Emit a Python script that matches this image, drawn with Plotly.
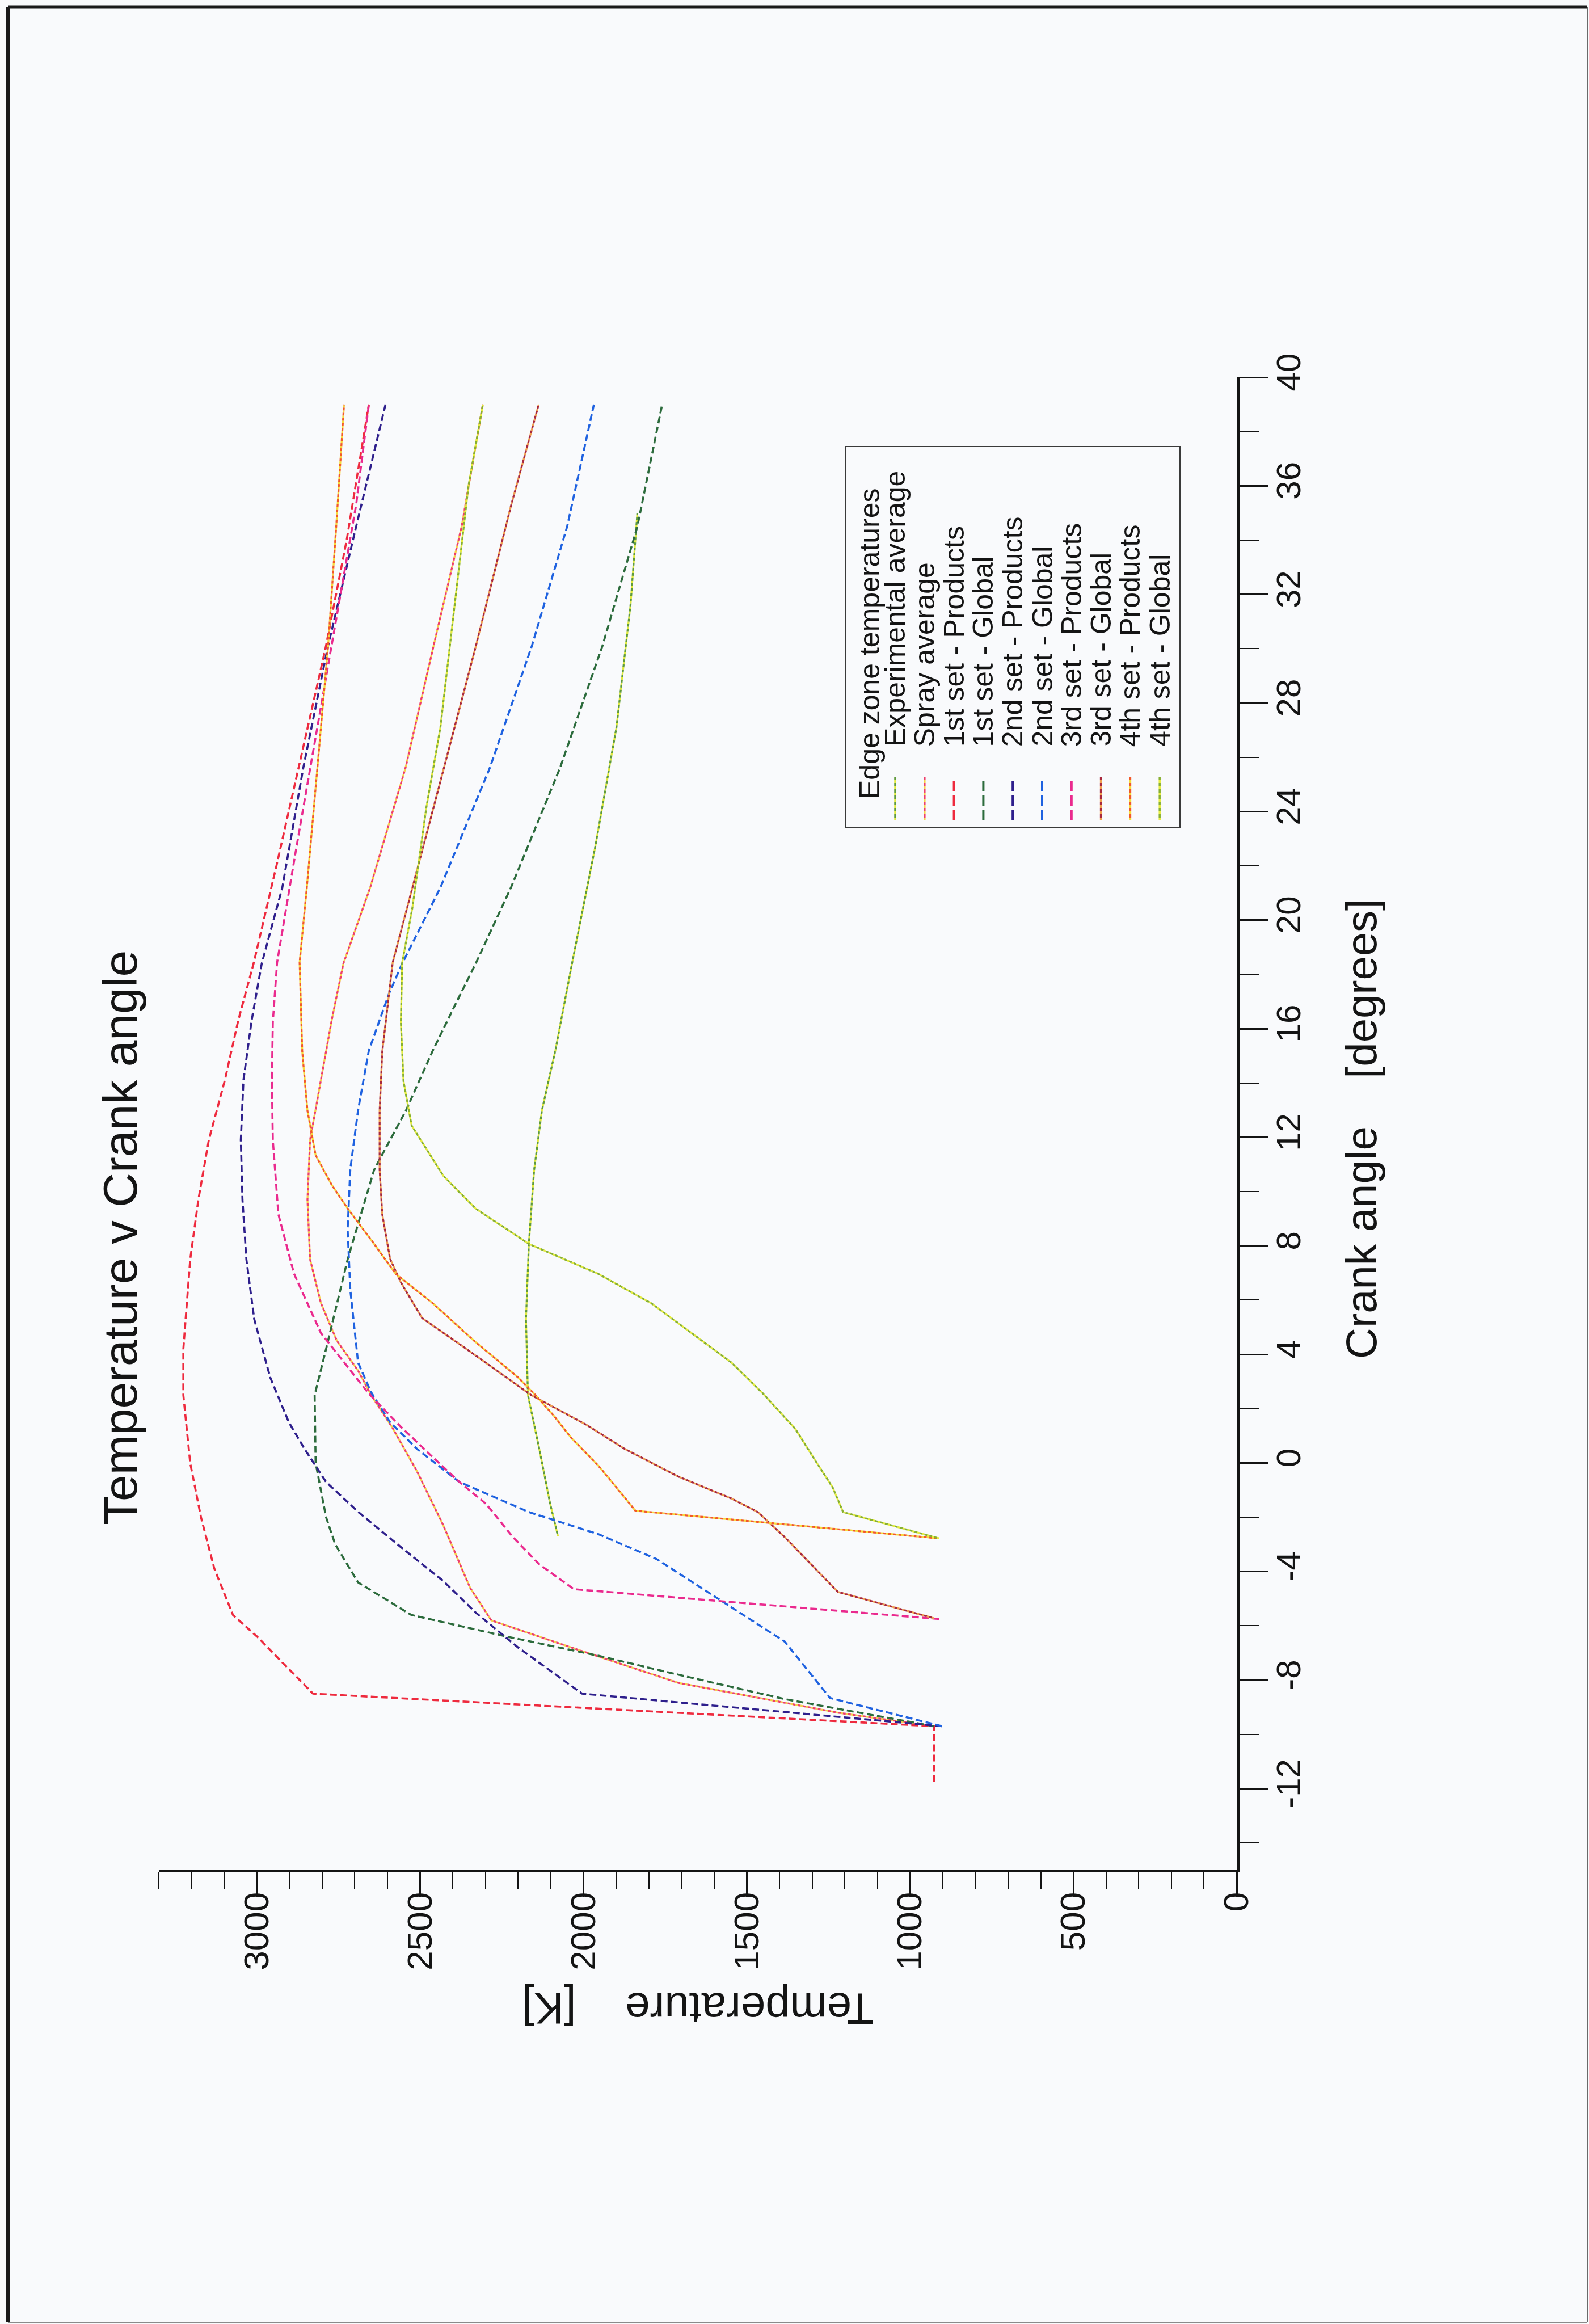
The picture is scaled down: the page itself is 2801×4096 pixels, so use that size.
import plotly.graph_objects as go

# ---------------- data: crank angle [degrees] vs temperature [K] ----------------
exp_avg_ca = [-2.7, -1.5, 0.5, 2.5, 5.3, 8.1, 10.8, 13.0, 15.2, 17.3, 18.4, 22.7, 27.1, 31.6, 35.0]
exp_avg_t = [2078, 2102, 2135, 2170, 2176, 2167, 2151, 2127, 2086, 2053, 2035, 1964, 1899, 1856, 1835]

spray_ca = [-9.7, -9.2, -8.1, -6.8, -5.8, -4.6, -2.3, -0.3, 1.3, 2.5, 3.4, 4.5, 5.9, 7.5, 9.7,
            11.9, 14.1, 16.3, 18.4, 21.2, 25.6, 30.1, 34.5, 39.0]
spray_t = [927, 1221, 1710, 2037, 2282, 2347, 2429, 2510, 2585, 2650, 2690, 2755, 2804, 2837, 2845,
           2837, 2804, 2771, 2735, 2653, 2545, 2459, 2373, 2308]

set1_prod_ca = [-11.75, -9.7, -8.5, -7.6, -6.4, -5.6, -3.9, -2.0, 0.0, 2.5, 4.2, 7.5, 9.7, 11.9,
                14.1, 16.3, 18.4, 22.0, 26.0, 30.0, 34.0, 39.0]
set1_prod_t = [927, 927, 2828, 2902, 2999, 3073, 3130, 3171, 3204, 3225, 3225, 3204, 3179, 3147,
               3098, 3057, 3010, 2940, 2865, 2790, 2725, 2657]

set1_glob_ca = [-9.7, -8.7, -7.8, -7.1, -6.4, -5.6, -4.4, -3.0, -2.0, 0.0, 2.5, 4.2, 7.5, 10.8,
                13.0, 15.2, 16.8, 18.4, 21.2, 25.6, 30.1, 34.5, 39.0]
set1_glob_t = [927, 1384, 1710, 1955, 2233, 2527, 2690, 2760, 2788, 2820, 2823, 2788, 2722, 2641,
               2543, 2461, 2396, 2330, 2222, 2072, 1942, 1835, 1759]

set2_prod_ca = [-9.7, -8.5, -6.8, -5.5, -4.35, -3.1, -1.8, -0.7, 0.5, 1.5, 3.15, 5.3, 7.5, 9.7,
                11.9, 14.1, 16.3, 18.4, 21.2, 25.6, 30.1, 34.5, 39.0]
set2_prod_t = [902, 2004, 2200, 2331, 2429, 2559, 2690, 2788, 2853, 2902, 2959, 3008, 3032, 3044,
               3049, 3041, 3016, 2985, 2922, 2858, 2782, 2696, 2606]

set2_glob_ca = [-9.7, -8.66, -6.58, -5.06, -3.54, -2.62, -1.81, -0.7, 0.52, 1.5, 2.6, 3.7, 6.4,
                8.6, 10.8, 13.0, 15.2, 17.3, 18.4, 21.2, 25.6, 30.1, 34.5, 39.0]
set2_glob_t = [902, 1245, 1384, 1580, 1776, 1955, 2167, 2380, 2510, 2592, 2650, 2690, 2714,
               2722, 2714, 2690, 2657, 2595, 2555, 2438, 2287, 2158, 2050, 1968]

set3_prod_ca = [-5.75, -4.65, -3.74, -2.73, -1.51, -0.7, 0.21, 1.33, 2.55, 4.79, 6.97, 9.16,
                11.89, 14.07, 16.25, 18.44, 22.67, 27.1, 31.55, 35.3, 39.0]
set3_prod_t = [911, 2029, 2135, 2216, 2298, 2380, 2461, 2559, 2657, 2804, 2886, 2934,
               2951, 2954, 2951, 2938, 2879, 2815, 2750, 2696, 2657]

set3_glob_ca = [-5.72, -4.75, -2.73, -1.81, -1.31, -0.5, 0.52, 1.4, 2.5, 4.24, 5.34, 6.65, 7.52,
                9.16, 10.8, 12.98, 15.16, 16.8, 18.44, 24.15, 30.07, 35.26, 39.0]
set3_glob_t = [927, 1221, 1384, 1466, 1547, 1710, 1874, 1990, 2160, 2363, 2494, 2559, 2592,
               2616, 2624, 2624, 2616, 2600, 2584, 2459, 2330, 2222, 2137]

set4_prod_ca = [-2.78, -1.76, -0.8, -0.09, 0.92, 1.73, 2.54, 3.15, 4.46, 5.88, 6.97, 8.07, 9.38,
                10.25, 11.34, 12.98, 15.16, 18.44, 21.2, 25.6, 30.07, 34.5, 39.0]
set4_prod_t = [911, 1841, 1906, 1955, 2037, 2090, 2150, 2200, 2331, 2461, 2575, 2641, 2722,
               2771, 2820, 2845, 2861, 2869, 2847, 2815, 2782, 2757, 2733]

set4_glob_ca = [-2.78, -1.81, -0.9, 0.01, 1.25, 2.54, 3.7, 5.88, 6.97, 8.07, 9.38, 10.58, 12.43,
                14.07, 16.25, 18.44, 20.44, 24.15, 27.1, 31.55, 36.0, 39.0]
set4_glob_t = [911, 1205, 1237, 1286, 1351, 1449, 1547, 1792, 1955, 2167, 2331, 2429, 2526,
               2551, 2559, 2555, 2524, 2481, 2438, 2395, 2352, 2308]

series_names = ["Experimental average", "Spray average",
                "1st set - Products", "1st set - Global",
                "2nd set - Products", "2nd set - Global",
                "3rd set - Products", "3rd set - Global",
                "4th set - Products", "4th set - Global"]

temp_ticks = [0, 500, 1000, 1500, 2000, 2500, 3000]
temp_tick_labels = ["0", "500", "1000", "1500", "2000", "2500", "3000"]
crank_ticks = [-12, -8, -4, 0, 4, 8, 12, 16, 20, 24, 28, 32, 36, 40]
crank_tick_labels = ["-12", "-8", "-4", "0", "4", "8", "12", "16", "20", "24", "28", "32", "36", "40"]

chart_title = "Temperature v Crank angle"
temp_title = "Temperature\u00a0\u00a0\u00a0\u00a0[K]"
crank_title = "Crank angle\u00a0\u00a0\u00a0\u00a0[degrees]"
legend_title = "Edge zone temperatures"

# ---------------- page geometry (pixels) ----------------
W, H = 2801, 4096
ML, MR, MT, MB = 280, 621, 665, 800
PW, PH = W - ML - MR, H - MT - MB


def xp(px):
    return (px - ML) / PW


def yp(py):
    return (H - MB - py) / PH


FONT = "Liberation Sans, Arial, Helvetica, sans-serif"
INK = "#141414"
PAGE = "#f9fafc"

# per curve: main colour, secondary colour (None = single colour dashes)
styles = [
    ("#5f9a3a", "#e2ea3c"),   # experimental average
    ("#ee3f6a", "#f6d24a"),   # spray average
    ("#ee2a3e", None),        # 1st products
    ("#2c6b3c", None),        # 1st global
    ("#2e1f8c", None),        # 2nd products
    ("#1f62e0", None),        # 2nd global
    ("#ea2a8e", None),        # 3rd products
    ("#a8283c", "#f0a050"),   # 3rd global
    ("#f25a28", "#f6dc3a"),   # 4th products
    ("#88b030", "#e6ec40"),   # 4th global
]

curves = [
    (exp_avg_ca, exp_avg_t), (spray_ca, spray_t),
    (set1_prod_ca, set1_prod_t), (set1_glob_ca, set1_glob_t),
    (set2_prod_ca, set2_prod_t), (set2_glob_ca, set2_glob_t),
    (set3_prod_ca, set3_prod_t), (set3_glob_ca, set3_glob_t),
    (set4_prod_ca, set4_prod_t), (set4_glob_ca, set4_glob_t),
]

SOLID_DASH = "12px,6px"
DOT_A = "4px,5px"            # secondary colour
DOT_B = "0px,4px,5px,0px"    # main colour, filling the gaps

fig = go.Figure()
for name, (ca, t), (c1, c2) in zip(series_names, curves, styles):
    if c2 is None:
        fig.add_trace(go.Scatter(x=t, y=ca, mode="lines", name=name, showlegend=False,
                                 line=dict(color=c1, width=3.6, dash=SOLID_DASH)))
    else:
        fig.add_trace(go.Scatter(x=t, y=ca, mode="lines", name=name, showlegend=False,
                                 hoverinfo="skip",
                                 line=dict(color=c2, width=3.3, dash=DOT_A)))
        fig.add_trace(go.Scatter(x=t, y=ca, mode="lines", name=name, showlegend=False,
                                 line=dict(color=c1, width=3.3, dash=DOT_B)))

shapes = []
annotations = []

# page frame
shapes.append(dict(type="line", xref="paper", yref="paper", x0=xp(14), x1=xp(14),
                   y0=yp(12), y1=yp(4093), line=dict(color="#1a1a1a", width=6)))
shapes.append(dict(type="line", xref="paper", yref="paper", x0=xp(14), x1=xp(2798),
                   y0=yp(12), y1=yp(12), line=dict(color="#1a1a1a", width=5)))
shapes.append(dict(type="line", xref="paper", yref="paper", x0=xp(2798), x1=xp(2798),
                   y0=yp(12), y1=yp(4093), line=dict(color="#6a6a6a", width=2)))
shapes.append(dict(type="line", xref="paper", yref="paper", x0=xp(14), x1=xp(2798),
                   y0=yp(4093), y1=yp(4093), line=dict(color="#8a8a8a", width=2)))

# legend box
shapes.append(dict(type="rect", xref="paper", yref="paper",
                   x0=xp(1491), x1=xp(2080), y0=yp(1459), y1=yp(787),
                   line=dict(color="#3a3a3a", width=2), fillcolor=PAGE, layer="above"))

annotations.append(dict(xref="paper", yref="paper", x=xp(1533), y=yp(1410),
                        text=legend_title, showarrow=False, textangle=-90,
                        xanchor="center", yanchor="bottom",
                        font=dict(family=FONT, size=50, color=INK)))

for i, (name, (c1, c2)) in enumerate(zip(series_names, styles)):
    cx = 1578 + 51.8 * i
    if c2 is None:
        shapes.append(dict(type="line", xref="paper", yref="paper", x0=xp(cx), x1=xp(cx),
                           y0=yp(1446), y1=yp(1370), layer="above",
                           line=dict(color=c1, width=4, dash="18px,8px")))
    else:
        shapes.append(dict(type="line", xref="paper", yref="paper", x0=xp(cx), x1=xp(cx),
                           y0=yp(1446), y1=yp(1370), layer="above",
                           line=dict(color=c2, width=3.5, dash="5px,6px")))
        shapes.append(dict(type="line", xref="paper", yref="paper", x0=xp(cx), x1=xp(cx),
                           y0=yp(1446), y1=yp(1370), layer="above",
                           line=dict(color=c1, width=3.5, dash="0px,5px,6px,0px")))
    annotations.append(dict(xref="paper", yref="paper", x=xp(cx), y=yp(1318),
                            text=name, showarrow=False, textangle=-90,
                            xanchor="center", yanchor="bottom",
                            font=dict(family=FONT, size=50, color=INK)))

# titles
annotations.append(dict(xref="paper", yref="paper", x=xp(212), y=yp(2182),
                        text=chart_title, showarrow=False, textangle=-90,
                        xanchor="center", yanchor="middle",
                        font=dict(family=FONT, size=84, color=INK)))
annotations.append(dict(xref="paper", yref="paper", x=xp(1230), y=yp(3540),
                        text=temp_title, showarrow=False, textangle=180,
                        xanchor="center", yanchor="middle",
                        font=dict(family=FONT, size=78, color=INK)))
annotations.append(dict(xref="paper", yref="paper", x=xp(2399), y=yp(1990),
                        text=crank_title, showarrow=False, textangle=-90,
                        xanchor="center", yanchor="middle",
                        font=dict(family=FONT, size=76, color=INK)))

fig.update_layout(
    width=W, height=H,
    margin=dict(l=ML, r=MR, t=MT, b=MB, pad=0),
    paper_bgcolor=PAGE, plot_bgcolor=PAGE,
    showlegend=False,
    shapes=shapes, annotations=annotations,
    xaxis=dict(
        range=[3300, 0], showgrid=False, zeroline=False,
        showline=True, linecolor=INK, linewidth=4,
        ticks="outside", ticklen=44, tickwidth=2.5, tickcolor=INK,
        tickmode="array", tickvals=temp_ticks, ticktext=temp_tick_labels,
        tickangle=-90, tickfont=dict(family=FONT, size=62, color=INK),
        ticklabelstandoff=-34,
        minor=dict(ticks="outside", ticklen=30, tickwidth=2, tickcolor=INK,
                   tickmode="array", tickvals=list(range(0, 3301, 100)), showgrid=False),
    ),
    yaxis=dict(
        range=[-15, 40], side="right", showgrid=False, zeroline=False,
        showline=True, linecolor=INK, linewidth=5,
        ticks="outside", ticklen=51, tickwidth=2.5, tickcolor=INK,
        tickmode="array", tickvals=crank_ticks, ticktext=crank_tick_labels,
        tickangle=-90, tickfont=dict(family=FONT, size=60, color=INK),
        ticklabelstandoff=-16,
        minor=dict(ticks="outside", ticklen=34, tickwidth=2, tickcolor=INK,
                   tickmode="array", tickvals=list(range(-14, 41, 2)), showgrid=False),
    ),
)

fig.write_html("out.html", config={"displayModeBar": False})
